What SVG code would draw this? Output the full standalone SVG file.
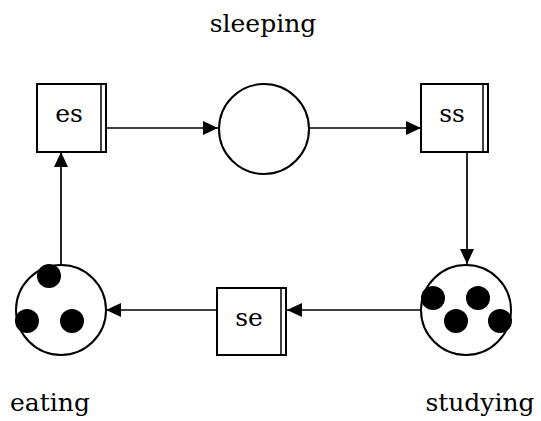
<svg xmlns="http://www.w3.org/2000/svg" width="541" height="421" viewBox="0 0 541 421">
  <style>
    .box { fill: #fff; stroke: #000; stroke-width: 2; }
    .bar { stroke: #000; stroke-width: 1.5; }
    .place { fill: #fff; stroke: #000; stroke-width: 2; }
    .token { fill: #000; }
    .edge { fill: none; stroke: #000; stroke-width: 1.7; marker-end: url(#arrow); }
    .label { font-family: "DejaVu Serif", "Liberation Serif", serif; font-size: 25px; fill: #000; text-anchor: middle; }
  </style>
  <defs>
    <marker id="arrow" markerUnits="userSpaceOnUse" markerWidth="16" markerHeight="15" refX="15" refY="7" orient="auto">
      <path d="M0,0 L15,7 L0,14 Z" fill="#000"/>
    </marker>
  </defs>

  <rect width="541" height="421" fill="#fff"/>

  <!-- connectors -->
  <g id="connectors">
    <line class="edge" x1="106" y1="128" x2="218" y2="128"/>
    <line class="edge" x1="309" y1="128" x2="421" y2="128"/>
    <line class="edge" x1="467" y1="152" x2="467" y2="264"/>
    <line class="edge" x1="421" y1="310" x2="287" y2="310"/>
    <line class="edge" x1="217" y1="310" x2="106" y2="310"/>
    <line class="edge" x1="61" y1="265" x2="61" y2="152"/>
  </g>

  <!-- transition es -->
  <g id="es">
    <rect class="box" x="37" y="84" width="69" height="68"/>
    <line class="bar" x1="101" y1="84" x2="101" y2="152"/>
    <text class="label" x="69" y="122">es</text>
  </g>

  <!-- place sleeping -->
  <g id="sleeping">
    <circle class="place" cx="264" cy="129" r="45"/>
    <text class="label" x="263" y="32">sleeping</text>
  </g>

  <!-- transition ss -->
  <g id="ss">
    <rect class="box" x="421" y="84" width="67" height="68"/>
    <line class="bar" x1="483" y1="84" x2="483" y2="152"/>
    <text class="label" x="452" y="122">ss</text>
  </g>

  <!-- place studying with four tokens -->
  <g id="studying">
    <circle class="place" cx="466" cy="310" r="45"/>
    <circle class="token" cx="433" cy="298" r="12"/>
    <circle class="token" cx="478" cy="298" r="12"/>
    <circle class="token" cx="456" cy="321" r="12"/>
    <circle class="token" cx="500" cy="321" r="12"/>
    <text class="label" x="480" y="411">studying</text>
  </g>

  <!-- transition se -->
  <g id="se">
    <rect class="box" x="217" y="288" width="69" height="67"/>
    <line class="bar" x1="281" y1="288" x2="281" y2="355"/>
    <text class="label" x="249" y="326">se</text>
  </g>

  <!-- place eating with three tokens -->
  <g id="eating">
    <circle class="place" cx="61" cy="310" r="45"/>
    <circle class="token" cx="49" cy="276" r="12"/>
    <circle class="token" cx="27" cy="321" r="12"/>
    <circle class="token" cx="72" cy="321" r="12"/>
    <text class="label" x="50" y="411">eating</text>
  </g>
</svg>
